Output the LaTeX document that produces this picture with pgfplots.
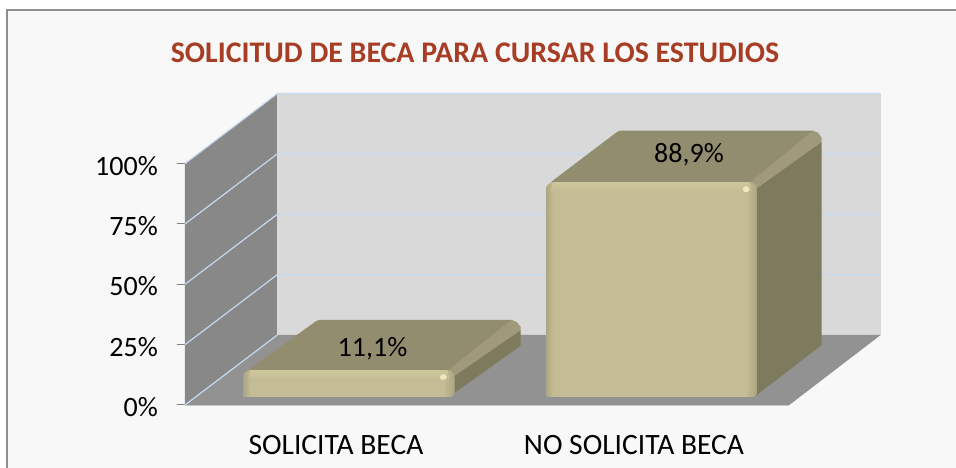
\documentclass[border=0pt]{standalone}
\usepackage{fontspec}
\setmainfont{Carlito}
\usepackage{pgfplots}
\pgfplotsset{compat=1.18}
\definecolor{bgc}{HTML}{F8F8F8}
\definecolor{framec}{HTML}{8E8E8E}
\definecolor{titlec}{HTML}{A63D24}
\definecolor{wallb}{HTML}{D9D9D9}
\definecolor{walls}{HTML}{888888}
\definecolor{floorc}{HTML}{929292}
\definecolor{gridc}{HTML}{C5D9F1}
\definecolor{fbase}{HTML}{C4BC94}
\definecolor{ftop}{HTML}{938D6F}
\definecolor{fside}{HTML}{7E7A5E}
\definecolor{fbev}{HTML}{A09A7A}
\definecolor{flight}{HTML}{E6DFB2}
\definecolor{fhigh}{HTML}{EFE8B8}
\definecolor{fedge}{HTML}{ABA582}
\tikzset{
  part/.style={draw=none, mark=none, yshift=8pt},
  leftb/.style={part, left color=fedge, right color=fbase},
  rightb/.style={part, left color=fbase, middle color=flight!85!fbase, right color=fedge},
  topb/.style={part, top color=fbase!70!flight, middle color=flight, bottom color=fbase},
  wall/.style={draw=none, mark=none},
  grid3d/.style={draw=gridc, line width=1.2pt, mark=none},
}
\begin{document}
\begin{tikzpicture}
\useasboundingbox (-185pt,-63pt) rectangle (771pt,405pt);
\fill[white] (-185pt,-63pt) rectangle (771pt,405pt);
\fill[bgc] (-178pt,-63pt) rectangle (771pt,395pt);
\draw[framec, line width=2pt] (-178pt,-63pt) -- (-178pt,395pt) -- (771pt,395pt);
\begin{axis}[
  scale only axis, width=604.3pt, height=241.4pt,
  at={(0pt,0pt)}, anchor=south west,
  xmin=185, xmax=789.3, ymin=0, ymax=100,
  clip=false,
  axis x line*=bottom, axis y line*=left,
  x axis line style={draw=black!22, -, line width=0.9pt},
  y axis line style={draw=black!45, -, line width=0.9pt},
  xtick={336,634}, xticklabels={SOLICITA BECA,NO SOLICITA BECA},
  xtick style={draw=none},
  ytick={0,25,50,75,100},
  yticklabel={\pgfmathprintnumber{\tick}\%},
  ytick style={draw=black!50, line width=1pt},
  tick align=outside, major tick length=8pt,
  /pgf/number format/assume math mode=true,
  tick label style={font=\fontsize{28}{32}\selectfont, text=black},
  yticklabel style={inner sep=0pt, xshift=-19pt, yshift=-2pt},
  xticklabel style={inner sep=0pt, yshift=-22pt, font=\fontsize{29.5}{32}\selectfont},
  title={\textbf{SOLICITUD DE BECA PARA CURSAR LOS ESTUDIOS}},
  title style={at={(0.480,1.458)}, anchor=center, inner sep=0pt,
    font=\fontsize{29.9}{32}\selectfont, text=titlec, yshift=-6pt},
]
% walls and floor
\addplot[wall, fill=walls] coordinates {(185,0) (185,100) (277.3,129) (277.3,29)};
\addplot[wall, fill=wallb] coordinates {(277.3,29) (277.3,129) (880.7,129) (880.7,29)};
\addplot[wall, fill=floorc] coordinates {(185,0) (277.3,29) (880.7,29) (789.3,0)};
% grid
\addplot[grid3d] coordinates {(185,0) (277.3,29)};
\addplot[grid3d] coordinates {(185,25) (277.3,54) (880.7,54)};
\addplot[grid3d] coordinates {(185,50) (277.3,79) (880.7,79)};
\addplot[grid3d] coordinates {(185,75) (277.3,104) (880.7,104)};
\addplot[grid3d] coordinates {(185,100) (277.3,129) (880.7,129)};
% bar 1, 11.1
\addplot[part, fill=fside] coordinates {(452,0.3) (454.3,1.66) (520.7,21.25) (520.7,27.75) (453.3,8.4)};
\addplot[part, fill=ftop] coordinates {(248,11.1) (316,31.4) (319,31.9) (512,31.9) (450,11.1)};
\addplot[part, fill=fbev] coordinates {(453.3,8.4) (520.7,27.75) (520.5,29.1) (517,31) (511.7,31.9) (448,11.1)};
\addplot[part, fill=fbase] coordinates {(243.3,0) (243.3,8.2) (244.2,9.65) (246.8,10.7) (250.3,11.1) (447.3,11.1) (450.8,10.7) (453.4,9.65) (454.3,8.2) (454.3,1.5) (452.5,0.4) (449,0)};
\addplot[leftb] coordinates {(243.3,0) (243.3,8.2) (244.2,9.65) (246.8,10.7) (250.3,11.1) (250.3,0)};
\addplot[rightb] coordinates {(443.3,0) (443.3,11.1) (447.3,11.1) (450.8,10.7) (453.4,9.65) (454.3,8.2) (454.3,1.5) (452.5,0.4) (449,0)};
\addplot[topb] coordinates {(248,7.4) (250.3,11.1) (447.3,11.1) (449.5,7.4)};
\addplot[part, fill=fhigh] coordinates {(440,8.2) (441.3,9.4) (445.3,9.4) (446.6,8.2) (445.3,7.2) (441.3,7.2)};
% bar 2, 88.9
\addplot[part, fill=fside] coordinates {(754.5,0.3) (756.7,0.83) (821.7,21.5) (821.7,105.8) (755.7,86.2)};
\addplot[part, fill=ftop] coordinates {(550.5,88.9) (617,109.8) (620,110.3) (813,110.3) (752,88.9)};
\addplot[part, fill=fbev] coordinates {(755.7,86.2) (821.7,105.8) (821.5,107.5) (818,109.5) (813,110.3) (750,88.9)};
\addplot[part, fill=fbase] coordinates {(546,0) (546,86) (546.9,87.45) (549.5,88.5) (553,88.9) (749.7,88.9) (753.2,88.5) (755.8,87.45) (756.7,86) (756.7,1.5) (754.9,0.4) (751.4,0)};
\addplot[leftb] coordinates {(546,0) (546,86) (546.9,87.45) (549.5,88.5) (553,88.9) (553,0)};
\addplot[rightb] coordinates {(745.7,0) (745.7,88.9) (749.7,88.9) (753.2,88.5) (755.8,87.45) (756.7,86) (756.7,1.5) (754.9,0.4) (751.4,0)};
\addplot[topb] coordinates {(550.7,85.2) (553,88.9) (749.7,88.9) (751.9,85.2)};
\addplot[part, fill=fhigh] coordinates {(742.7,86) (744,87.2) (748,87.2) (749.3,86) (748,85) (744,85)};
% labels of the bars
\node[font=\fontsize{28}{32}\selectfont, inner sep=0pt] at (axis cs:372.5,23.4) {11,1\%};
\node[font=\fontsize{28}{32}\selectfont, inner sep=0pt] at (axis cs:689,103.6) {88,9\%};
\end{axis}
\end{tikzpicture}
\end{document}
